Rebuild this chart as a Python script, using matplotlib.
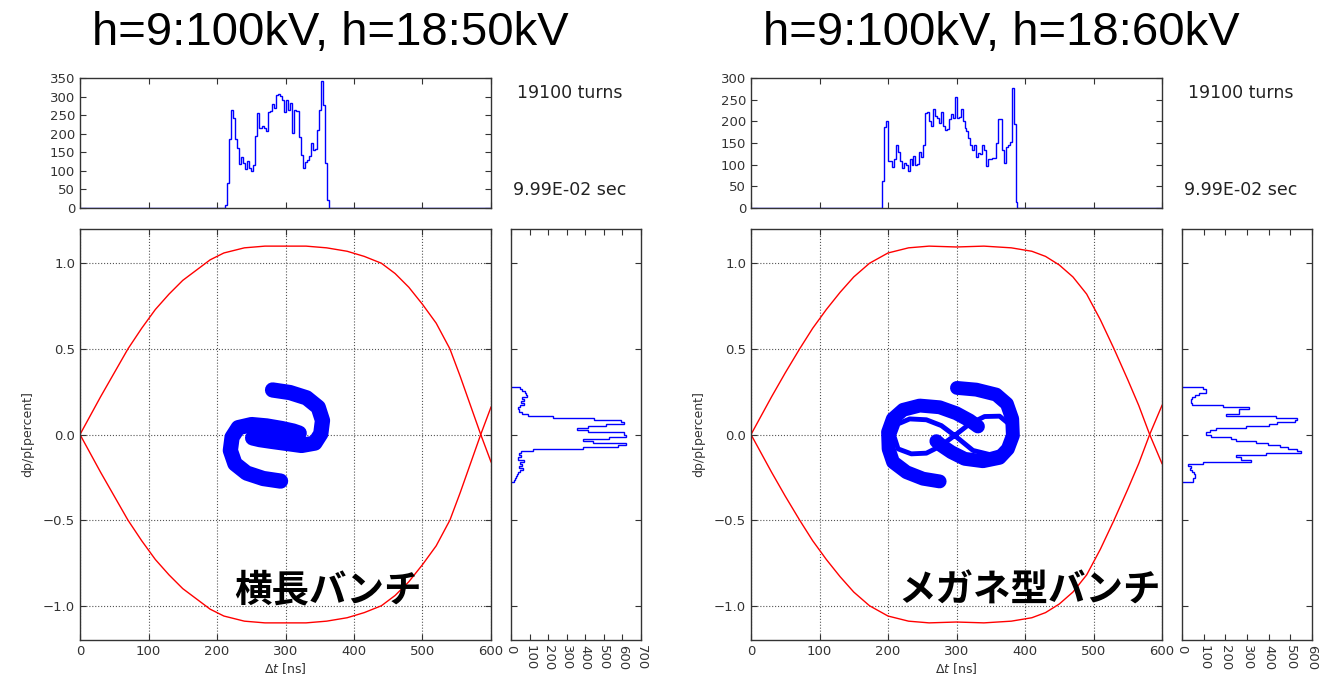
import numpy as np
import matplotlib.pyplot as plt

plt.rcParams.update({
    "font.family": ["DejaVu Sans"],
    "font.size": 10,
    "xtick.direction": "in",
    "ytick.direction": "in",
    "xtick.top": True,
    "ytick.right": True,
    "xtick.major.size": 4,
    "ytick.major.size": 4,
    "axes.linewidth": 1.0,
    "axes.edgecolor": "#333333",
    "xtick.color": "#333333",
    "ytick.color": "#333333",
})

# ----------- DATA -----------------------------------
titles = ["h=9:100kV, h=18:50kV", "h=9:100kV, h=18:60kV"]
bunch_names = ["横長バンチ", "メガネ型バンチ"]
turns_text = "19100 turns"
time_text = "9.99E-02 sec"

# separatrix, upper branch (lower branch is its mirror)
sep_t_left = [0, 15, 30, 50, 70, 90, 110, 130, 150, 170, 190, 210, 240, 270, 300, 330,
              360, 390, 415, 440, 460, 480, 500, 520, 540, 555, 570, 585, 600]
sep_dp_left = [0, 0.11, 0.22, 0.36, 0.50, 0.62, 0.73, 0.82, 0.90, 0.96, 1.02, 1.06, 1.09, 1.10, 1.10, 1.10,
               1.09, 1.07, 1.04, 1.0, 0.94, 0.86, 0.76, 0.65, 0.5, 0.34, 0.17, 0.0, -0.16]
sep_t_right = [0, 15, 30, 50, 71, 90, 110, 130, 150, 173, 200, 230, 260, 300, 340, 380,
               410, 430, 450, 470, 490, 510, 530, 550, 566, 582, 600]
sep_dp_right = [0, 0.11, 0.22, 0.36, 0.5, 0.62, 0.73, 0.83, 0.92, 1.0, 1.06, 1.09, 1.10, 1.095, 1.10, 1.09,
                1.07, 1.04, 0.99, 0.92, 0.82, 0.67, 0.5, 0.32, 0.17, 0.0, -0.17]

# time profile (top histograms), 3 ns-ish bins
prof_left_t0, prof_left_dt = 211.0, 3.0
prof_left = [8, 67, 186, 263, 242, 186, 162, 118, 137, 120,
             105, 127, 108, 99, 115, 195, 256, 215, 220, 215,
             208, 258, 262, 281, 270, 303, 307, 302, 290, 258,
             290, 265, 283, 202, 265, 260, 191, 143, 108, 125,
             130, 140, 175, 155, 160, 209, 265, 341, 278, 121,
             21]
prof_right_t0, prof_right_dt = 191.4, 2.864
prof_right = [63, 188, 200, 108, 108, 95, 112, 145, 130, 108,
              92, 105, 100, 85, 112, 100, 120, 100, 102, 130,
              118, 145, 220, 222, 200, 190, 228, 212, 207, 197,
              222, 190, 180, 183, 205, 217, 208, 257, 208, 210,
              228, 200, 185, 178, 162, 145, 133, 145, 118, 127,
              125, 145, 133, 96, 112, 114, 115, 116, 150, 205,
              205, 133, 103, 140, 145, 153, 277, 195, 15]

# momentum profile (side histograms), listed from top (dp=+0.28) downwards
mom_top, mom_bottom = 0.28, -0.28
mom_left = [48, 60, 75, 80, 85, 60, 70, 55, 70, 50, 40, 45, 60, 90, 224, 449,
            592, 610, 512, 413, 354, 413, 610, 620, 530, 386, 440, 620, 575, 386,
            117, 54, 45, 55, 40, 70, 50, 60, 45, 65, 50, 40, 30, 25, 20, 15]
mom_right = [96, 112, 112, 80, 58, 45, 43, 43, 45, 188, 311, 265, 265, 203, 433, 532,
             520, 440, 402, 295, 158, 130, 112, 135, 226, 250, 341, 395, 450, 487,
             532, 548, 387, 250, 272, 318, 96, 28, 40, 35, 45, 55, 60, 58, 50, 52]

# particle distribution drawn as bands (centre lines)
left_arm_a_t = [281.1, 306.4, 330.8, 347.8, 354.0, 351.5, 342.9, 323.5, 301.6, 279.7, 262.7, 252.0]
left_arm_a_dp = [0.260, 0.245, 0.214, 0.159, 0.082, 0.004, -0.050, -0.064, -0.052, -0.040, -0.030, -0.020]
left_arm_b_t = [292.8, 267.5, 243.2, 226.2, 219.5, 222.0, 231.0, 250.5, 272.4, 294.3, 311.3, 320.0]
left_arm_b_dp = [-0.272, -0.257, -0.225, -0.171, -0.093, -0.016, 0.040, 0.058, 0.050, 0.035, 0.020, 0.008]

right_arm_a_t = [300.7, 328.9, 358.0, 373.6, 381.3, 382.3, 375.0, 362.9, 338.6, 311.9, 292.4, 277.9, 270.6]
right_arm_a_dp = [0.272, 0.262, 0.233, 0.179, 0.091, -0.006, -0.084, -0.136, -0.156, -0.142, -0.103, -0.064, -0.039]
right_arm_b_t = [275.4, 251.1, 226.9, 207.4, 200.9, 200.1, 207.0, 222.0, 246.3, 275.4, 299.7, 319.1, 331.3]
right_arm_b_dp = [-0.274, -0.258, -0.220, -0.161, -0.084, 0.014, 0.091, 0.144, 0.169, 0.159, 0.124, 0.082, 0.047]
right_loop_t = [297.3, 277.9, 256.0, 231.7, 214.7, 208.4, 214.7, 234.1, 256.0, 275.4, 297.3,
                319.1, 341.0, 362.9, 376.5, 379.9, 370.2, 348.3, 324.0, 297.3]
right_loop_dp = [-0.006, 0.052, 0.086, 0.091, 0.062, -0.006, -0.084, -0.113, -0.109, -0.070, -0.006,
                 0.062, 0.105, 0.107, 0.062, -0.016, -0.093, -0.117, -0.093, -0.006]

t_ticks = [0, 100, 200, 300, 400, 500, 600]
dp_ticks = [-1.0, -0.5, 0.0, 0.5, 1.0]

W, H = 1322, 683


def box(x0, y0, x1, y1):
    # pixel box -> figure fraction
    return [x0 / W, 1 - y1 / H, (x1 - x0) / W, (y1 - y0) / H]


fig = plt.figure(figsize=(W / 100, H / 100), dpi=100)


def draw_panel(px, title, sep_t, sep_dp, prof, t0, dt, top_max, mom, side_max, bands):
    ax = fig.add_axes(box(px, 229, px + 411, 640))
    ax_top = fig.add_axes(box(px, 78, px + 411, 208))
    ax_side = fig.add_axes(box(px + 431, 229, px + 561, 640))

    # main phase space
    ax.plot(sep_t, sep_dp, color="red", lw=1)
    ax.plot(sep_t, [-v for v in sep_dp], color="red", lw=1)
    for bt, bdp, lw in bands:
        ax.plot(bt, bdp, color="blue", lw=lw, solid_capstyle="round", solid_joinstyle="round")
    ax.set_xlim(0, 600)
    ax.set_ylim(-1.2, 1.2)
    ax.set_xticks(t_ticks)
    ax.set_yticks(dp_ticks)
    ax.grid(True, linestyle=":", color="#555555", lw=0.8)
    ax.set_xlabel(r"$\Delta t$ [ns]", fontsize=9, color="#333333", labelpad=2)
    ax.set_ylabel("dp/p[percent]", fontsize=9, color="#333333", labelpad=6)
    ax.tick_params(labelsize=9.5)

    # time profile
    edges = t0 + dt * np.arange(len(prof) + 1)
    ax_top.stairs([0] + prof + [0], np.concatenate([[0], edges, [600]]), color="blue", lw=1)
    ax_top.set_xlim(0, 600)
    ax_top.set_ylim(0, top_max)
    ax_top.set_xticks(t_ticks)
    ax_top.set_yticks(np.arange(0, top_max + 1, 50))
    ax_top.tick_params(labelbottom=False, labelsize=9.5)

    # momentum profile
    medges = np.linspace(mom_bottom, mom_top, len(mom) + 1)
    ax_side.stairs(mom[::-1], medges, orientation="horizontal", color="blue", lw=1)
    ax_side.set_ylim(-1.2, 1.2)
    ax_side.set_xlim(0, side_max)
    ax_side.set_xticks(np.arange(0, side_max + 1, 100))
    ax_side.set_yticks(dp_ticks)
    ax_side.tick_params(labelleft=False, labelsize=9.5)
    for lab in ax_side.get_xticklabels():
        lab.set_rotation(270)

    cx = px + 490
    fig.text(cx / W, 1 - 93 / H, turns_text, ha="center", va="center", fontsize=12.5, color="#222222")
    fig.text(cx / W, 1 - 190 / H, time_text, ha="center", va="center", fontsize=12.5, color="#222222")
    fig.text((px + 250) / W, 1 - 33 / H, title, ha="center", va="center",
             fontsize=34, family=["Liberation Sans"])


draw_panel(80, titles[0], sep_t_left, sep_dp_left,
           prof_left, prof_left_t0, prof_left_dt, 350, mom_left, 700,
           [(left_arm_a_t, left_arm_a_dp, 11), (left_arm_b_t, left_arm_b_dp, 11)])
draw_panel(751, titles[1], sep_t_right, sep_dp_right,
           prof_right, prof_right_t0, prof_right_dt, 300, mom_right, 600,
           [(right_arm_a_t, right_arm_a_dp, 10), (right_arm_b_t, right_arm_b_dp, 10),
            (right_loop_t, right_loop_dp, 3.5)])

fig.text(328 / W, 1 - 590 / H, bunch_names[0], ha="center", va="center", fontsize=27,
         fontweight="bold", family=["Noto Sans CJK JP", "DejaVu Sans"])
fig.text(1030 / W, 1 - 590 / H, bunch_names[1], ha="center", va="center", fontsize=27,
         fontweight="bold", family=["Noto Sans CJK JP", "DejaVu Sans"])

fig.savefig("out.png", dpi=100, facecolor="white")
